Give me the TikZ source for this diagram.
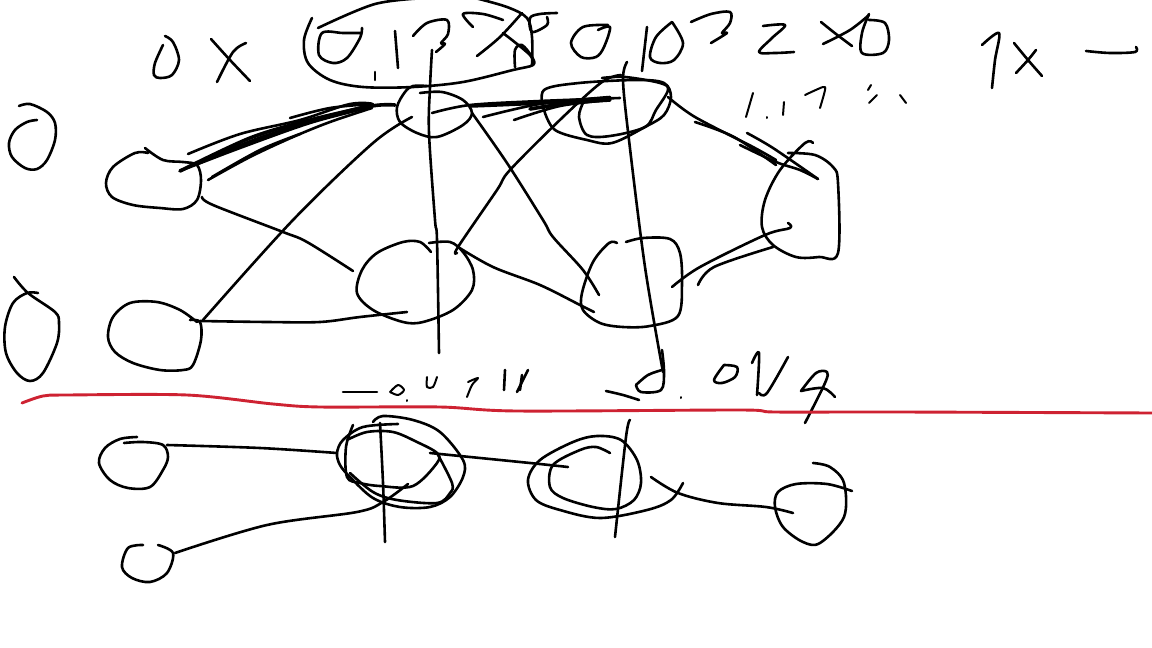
\documentclass[tikz,border=0pt]{standalone}
\definecolor{sketchred}{RGB}{206,34,50}
\tikzset{
  ink/.style={draw=black,line width=2.6pt,line cap=round,line join=round},
  redink/.style={draw=sketchred,line width=2.9pt,line cap=round,line join=round},
  thin ink/.style={ink,line width=2pt},
  heavy ink/.style={ink,line width=3.6pt}
}
\newcommand\sk[1]{\draw[ink] plot[smooth,tension=.55] coordinates {#1};}
\newcommand\skt[1]{\draw[thin ink] plot[smooth,tension=.5] coordinates {#1};}
\newcommand\skh[1]{\draw[heavy ink] plot[smooth,tension=.5] coordinates {#1};}
\begin{document}
\begin{tikzpicture}[x=1pt,y=-1pt]
\useasboundingbox (0,0) rectangle (1152,648);
\fill[white] (0,0) rectangle (1152,648);
\clip (0,0) rectangle (1152,648);
% top row marks
\sk{(165,36) (173,42) (179,60) (172,75) (160,78) (154,75) (155,63) (163,45)}
\sk{(211,39) (230,60) (250,81)}
\sk{(246,43) (233,52) (217,82)}
\sk{(312,18) (304,40) (308,63) (330,80) (363,87) (413,87) (463,82) (513,70) (533,65) (532,57) (522,45) (515,50) (515,67)}
\sk{(318,28) (375,4) (427,-2)}
\sk{(475,-2) (507,7) (527,18) (532,37) (532,65)}
\sk{(362,28) (360,38) (347,58) (333,63) (319,55) (322,33) (343,33) (360,33)}
\sk{(375,72) (375,80)}
\sk{(395,31) (398,68)}
\sk{(413,36) (427,23) (447,20) (448,34) (441,43) (445,44) (436,52)}
\sk{(473,27) (463,14) (483,14) (503,20)}
\sk{(522,13) (500,37) (477,56)}
\sk{(503,33) (530,55) (533,65)}
\sk{(557,13) (540,14) (530,18) (532,32) (547,25) (547,17)}
\sk{(598,30) (610,27) (604,47) (596,57) (581,57) (571,43) (583,27) (608,25)}
\sk{(647,27) (642,71)}
\sk{(672,22) (656,37) (650,57) (660,63) (674,60) (683,43) (672,22)}
\sk{(691,22) (711,14) (730,12) (730,23) (722,33) (727,33) (711,43)}
\sk{(763,26) (785,25) (772,38) (759,52) (775,53) (794,52)}
\sk{(821,22) (836,34) (852,46)}
\sk{(869,15) (850,30) (823,44)}
\sk{(869,14) (862,33) (862,53) (883,53) (889,40) (885,23) (869,20)}
\sk{(982,45) (999,33) (995,60) (992,88)}
\sk{(1014,43) (1028,60) (1042,76)}
\sk{(1036,50) (1028,60) (1016,73)}
\sk{(1086,51) (1110,53) (1135,52) (1136,47)}
% 1.17 %
\skt{(753,93) (746,117)}
\skt{(767,117) (767,118)}
\skt{(784,102) (783,115)}
\skt{(805,95) (823,87) (825,90) (820,108)}
\skt{(871,85) (868,90)}
\skt{(877,95) (869,103)}
\skt{(900,95) (906,103)}
% left zeros
\sk{(19,106) (30,104) (47,112) (55,123) (55,140) (47,160) (37,169) (25,168) (12,157) (9,143) (15,130) (27,122) (37,120)}
\sk{(14,277) (28,293) (55,312) (59,323) (57,343) (43,373) (30,381) (17,373) (6,353) (5,327) (13,303) (27,293) (38,293)}
% upper nodes
\sk{(145,148) (163,160) (183,162) (197,165) (201,180) (197,200) (183,209) (160,208) (133,205) (112,197) (106,183) (113,167) (135,153) (148,153)}
\sk{(190,320) (200,322) (201,340) (193,365) (183,370) (160,370) (133,363) (115,352) (108,337) (113,317) (130,303) (157,302) (180,310) (197,322)}
\sk{(420,93) (442,92) (463,100) (472,113) (463,125) (437,137) (417,133) (400,122) (397,107) (405,92) (413,86) (427,86)}
\sk{(431,252) (420,242) (403,242) (377,253) (362,270) (357,293) (373,310) (403,322) (423,322) (453,310) (472,290) (473,270) (463,252) (450,242) (429,243)}
\sk{(617,243) (609,243) (593,262) (582,293) (583,310) (600,323) (623,327) (650,326) (678,316) (682,283) (680,253) (670,239) (643,238) (626,242)}
\sk{(813,143) (805,143) (780,170) (765,200) (762,227) (773,245) (796,257) (819,257) (838,253) (838,183) (833,167) (815,155) (788,153)}
% top-right node, double ring
\sk{(544,110) (544,90) (579,83) (637,80) (664,83) (671,97) (664,115) (645,127) (612,143) (587,140) (555,130) (544,110)}
\sk{(602,78) (625,77) (660,83) (668,90) (656,110) (645,127) (610,136) (587,135) (579,117) (583,103)}
% scribbled connector, left
\skh{(180,171) (250,138) (310,120) (372,106) (395,105)}
\skh{(196,164) (260,138) (330,116) (372,105)}
\sk{(188,154) (240,134) (300,120) (350,104) (372,106) (310,123) (240,148) (180,171)}
\sk{(208,180) (250,157) (293,137) (330,122) (372,108)}
\sk{(212,177) (260,150) (300,134)}
\sk{(290,118) (330,108) (372,104)}
% scribbled connector, right
\sk{(432,113) (470,105) (540,101) (620,98)}
\skh{(470,106) (540,103) (610,98)}
\skh{(530,109) (570,103) (610,100)}
\sk{(610,97) (540,104) (483,117)}
\sk{(514,120) (560,106) (610,100)}
% connectors
\sk{(412,117) (373,143) (293,220) (203,320)}
\sk{(202,197) (213,205) (283,232) (307,242) (353,271)}
\sk{(200,321) (267,322) (320,322) (360,317) (407,312)}
\sk{(458,247) (493,267) (540,285) (580,305) (594,312)}
\sk{(472,113) (507,163) (543,220) (553,237) (583,270) (599,295)}
\sk{(457,253) (458,247) (497,190) (510,170) (563,117) (602,82) (621,75)}
\sk{(668,97) (695,117) (753,147) (776,160)}
\sk{(695,122) (734,137) (776,165)}
\sk{(747,133) (773,148) (818,179)}
\sk{(740,145) (776,162) (800,170) (818,179)}
\sk{(672,287) (700,267) (765,235) (790,228) (788,223)}
\sk{(698,285) (714,267) (773,247)}
% verticals
\sk{(432,50) (430,87) (429,133) (435,220) (437,240) (439,353)}
\sk{(627,62) (623,80) (629,140) (645,267) (663,372)}
% lower labels
\sk{(343,392) (377,392)}
\skt{(390,392) (398,385) (404,390) (398,395) (390,392)}
\skt{(407,400) (407,401)}
\skt{(427,377) (427,387) (433,387) (437,377)}
\skt{(468,382) (478,378) (472,385) (467,397)}
\sk{(505,370) (504,390)}
\sk{(528,370) (517,392)}
\sk{(522,375) (520,390)}
\sk{(606,391) (623,395) (639,400)}
\sk{(636,385) (641,392) (661,390) (664,372) (662,350)}
\sk{(636,385) (648,375) (662,370)}
\skt{(681,397) (681,398)}
\sk{(724,365) (714,380) (722,383) (735,377) (737,367) (724,365)}
\sk{(752,363) (759,353) (757,395)}
\sk{(759,393) (767,393) (788,357)}
\sk{(801,391) (816,373) (827,372) (825,383) (805,423)}
\sk{(801,391) (823,388) (835,397)}
% red divider
\draw[redink] plot[smooth,tension=.5] coordinates {(22,403) (43,396) (67,395) (187,395) (273,404) (320,407) (440,407) (517,411) (740,410) (775,412) (900,412) (1152,413)};
% lower nodes
\sk{(137,437) (120,439) (105,448) (99,463) (110,480) (128,488) (150,487) (163,470) (168,457) (163,445) (143,442) (124,443)}
\sk{(143,545) (128,548) (122,567) (132,578) (150,582) (167,573) (173,553) (158,545)}
\sk{(373,422) (383,416) (413,420) (440,432) (463,460) (463,477) (450,497) (430,507) (400,507) (373,498) (350,477) (340,465) (337,453) (343,440) (363,427) (398,424)}
\sk{(353,425) (346,447) (347,477) (360,483) (380,486) (413,486) (437,463) (437,453) (417,442) (393,432) (367,432) (347,440)}
\sk{(437,453) (452,483) (450,493) (437,503) (397,500) (373,492) (350,473)}
\sk{(610,453) (596,447) (580,450) (553,465) (550,487) (563,498) (593,507) (616,509) (634,500) (641,483) (637,460) (621,440) (597,436) (573,442) (540,460) (528,480) (536,500) (560,510) (600,518) (647,510) (671,500) (683,483)}
\sk{(813,463) (830,467) (844,483) (844,517) (820,543) (803,542) (783,527) (775,507) (778,492) (796,484) (827,484) (852,491)}
% lower connectors
\sk{(167,445) (260,448) (337,453)}
\sk{(430,453) (530,463) (568,467)}
\sk{(175,553) (267,525) (357,512) (383,502) (408,484)}
\sk{(651,477) (678,493) (718,503) (766,507) (793,513)}
\sk{(380,423) (383,483) (385,542)}
\sk{(630,420) (626,437) (615,537)}
\end{tikzpicture}
\end{document}
